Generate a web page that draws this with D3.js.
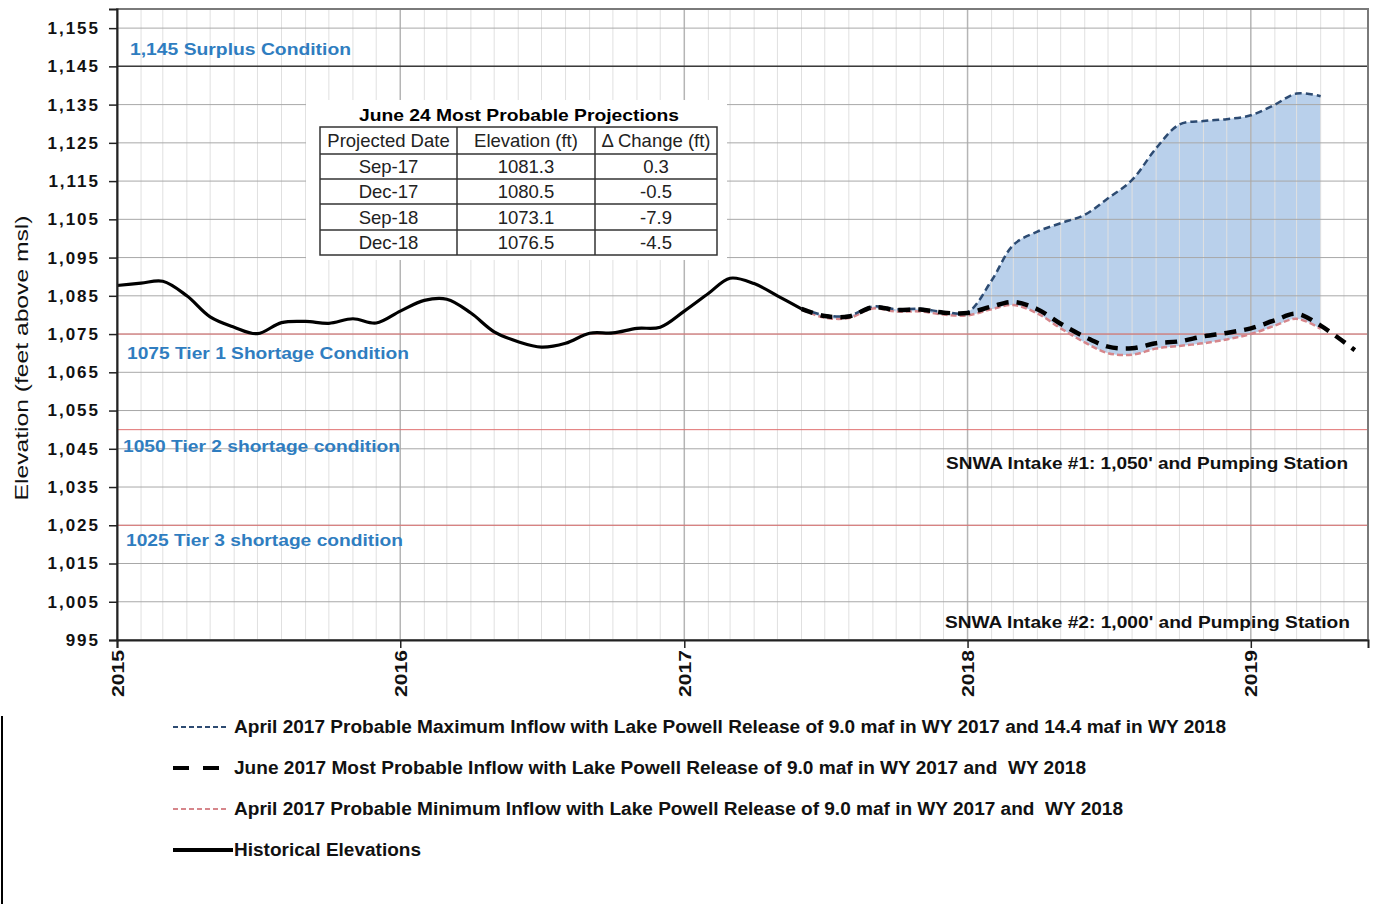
<!DOCTYPE html>
<html>
<head>
<meta charset="utf-8">
<script src="https://cdn.jsdelivr.net/npm/d3@7"></script>
<style>
  body { margin: 0; background: #fff; }
  svg { display: block; font-family: 'Liberation Sans', Arial, sans-serif; }
</style>
</head>
<body>
<div id="chart"></div>
<script>
// Historical elevations (month dates, ft)
const histDates = [
  '2015-01', '2015-02', '2015-03', '2015-04', '2015-05', '2015-06', '2015-07', '2015-08', '2015-09', '2015-10', '2015-11', '2015-12',
  '2016-01', '2016-02', '2016-03', '2016-04', '2016-05', '2016-06', '2016-07', '2016-08', '2016-09', '2016-10', '2016-11', '2016-12',
  '2017-01', '2017-02', '2017-03', '2017-04', '2017-05', '2017-06',
];
const histValues = [
  1087.7, 1088.3, 1088.8, 1085.0, 1079.5, 1076.8, 1075.1, 1078.0, 1078.3, 1077.8, 1079.0, 1077.9,
  1081.0, 1083.8, 1084.1, 1080.5, 1075.6, 1073.0, 1071.6, 1072.6, 1075.2, 1075.3, 1076.5, 1076.8,
  1081.0, 1085.6, 1089.6, 1088.2, 1085.0, 1081.6,
];

// Projection dates (max / min runs)
const projDates = [
  '2017-06', '2017-07', '2017-08', '2017-09', '2017-10', '2017-11', '2017-12',
  '2018-01', '2018-02', '2018-03', '2018-04', '2018-05', '2018-06', '2018-07', '2018-08', '2018-09', '2018-10', '2018-11', '2018-12',
  '2019-01', '2019-02', '2019-03', '2019-04',
];
const maxValues = [
  1081.7, 1079.9, 1079.8, 1082.2, 1081.5, 1081.6, 1080.8,
  1080.7, 1089.0, 1098.3, 1101.8, 1104.0, 1106.2, 1110.5, 1115.3, 1123.6, 1129.8, 1130.7, 1131.2,
  1132.2, 1135.0, 1137.9, 1137.2,
];
const minValues = [
  1081.4, 1079.3, 1079.2, 1081.7, 1080.9, 1080.9, 1080.1,
  1079.9, 1081.5, 1082.6, 1080.4, 1076.5, 1072.8, 1070.0, 1069.6, 1071.2, 1071.9, 1072.6, 1073.6,
  1075.0, 1077.2, 1079.0, 1076.4,
];
// Most probable run goes a little further
const mostDates = projDates.concat(['2019-05-15']);
const mostValues = [
  1081.6, 1079.7, 1079.6, 1082.0, 1081.3, 1081.4, 1080.6,
  1080.5, 1082.2, 1083.4, 1081.5, 1077.7, 1074.3, 1071.7, 1071.3, 1072.6, 1073.1, 1074.4, 1075.3,
  1076.5, 1078.6, 1080.3, 1077.2, 1070.8,
];

const yTicks = [995, 1005, 1015, 1025, 1035, 1045, 1055, 1065, 1075, 1085, 1095, 1105, 1115, 1125, 1135, 1145, 1155];
const xYears = ['2015', '2016', '2017', '2018', '2019'];

const refLevels = [1145, 1075, 1050, 1025];
const refLabels = ['1,145 Surplus Condition', '1075 Tier 1 Shortage Condition', '1050 Tier 2 shortage condition', '1025 Tier 3 shortage condition'];
const intakeLabels = ["SNWA Intake #1: 1,050' and Pumping Station", "SNWA Intake #2: 1,000' and Pumping Station"];

const tableTitle = 'June 24 Most Probable Projections';
const tableHeader = ['Projected Date', 'Elevation (ft)', '\u0394 Change (ft)'];
const tableDates = ['Sep-17', 'Dec-17', 'Sep-18', 'Dec-18'];
const tableElev = ['1081.3', '1080.5', '1073.1', '1076.5'];
const tableChange = ['0.3', '-0.5', '-7.9', '-4.5'];

const legendLabels = [
  'April 2017 Probable Maximum Inflow with Lake Powell Release of 9.0 maf in WY 2017 and 14.4 maf in WY 2018',
  'June 2017 Most Probable Inflow with Lake Powell Release of 9.0 maf in WY 2017 and  WY 2018',
  'April 2017 Probable Minimum Inflow with Lake Powell Release of 9.0 maf in WY 2017 and  WY 2018',
  'Historical Elevations',
];

const parse = (s) => d3.utcParse('%Y-%m-%d')(s) || d3.utcParse('%Y-%m')(s);

const W = 1376, H = 904;
const plot = { left: 117, right: 1368, top: 9, bottom: 640 };

const svg = d3.select('#chart').append('svg').attr('width', W).attr('height', H);

const x = d3.scaleUtc()
  .domain([parse('2015-01'), parse('2019-06')])
  .range([plot.left, plot.right]);
const y = d3.scaleLinear().domain([995, 1160]).range([plot.bottom, plot.top]);

const hist = histDates.map((d, i) => ({ date: parse(d), v: histValues[i] }));
const band = projDates.map((d, i) => ({ date: parse(d), hi: maxValues[i], lo: minValues[i] }));
const most = mostDates.map((d, i) => ({ date: parse(d), v: mostValues[i] }));

const curve = d3.curveCatmullRom.alpha(0.5);

// Shaded range between max and min
svg.append('path')
  .datum(band)
  .attr('fill', '#b9d0eb')
  .attr('d', d3.area().curve(curve).x((d) => x(d.date)).y0((d) => y(d.lo)).y1((d) => y(d.hi)));

// Monthly vertical grid
svg.append('g')
  .selectAll('line')
  .data(x.ticks(d3.utcMonth.every(1)))
  .join('line')
  .attr('x1', (d) => x(d)).attr('x2', (d) => x(d))
  .attr('y1', plot.top).attr('y2', plot.bottom)
  .attr('stroke', (d) => (d.getUTCMonth() === 0 ? '#b5b5b5' : '#e0e0e0'))
  .attr('stroke-width', (d) => (d.getUTCMonth() === 0 ? 1.5 : 1));

// Horizontal grid
svg.append('g')
  .selectAll('line')
  .data(yTicks.slice(1))
  .join('line')
  .attr('x1', plot.left).attr('x2', plot.right)
  .attr('y1', (d) => y(d)).attr('y2', (d) => y(d))
  .attr('stroke', '#a8a8a8')
  .attr('stroke-width', 1);

// Condition lines
svg.append('g')
  .selectAll('line')
  .data(refLevels)
  .join('line')
  .attr('x1', plot.left).attr('x2', plot.right)
  .attr('y1', (d) => y(d)).attr('y2', (d) => y(d))
  .attr('stroke', (d) => (d === 1145 ? '#3a3a3a' : '#e07070'))
  .attr('stroke-width', (d) => (d === 1145 ? 1.5 : 1));

// Condition labels
const refLabelPos = [[130, 55], [127, 359], [123, 452], [126, 546]];
const refLabelLen = [221, 282, 277, 277];
svg.append('g')
  .selectAll('text')
  .data(refLabels)
  .join('text')
  .attr('x', (d, i) => refLabelPos[i][0])
  .attr('y', (d, i) => refLabelPos[i][1])
  .attr('textLength', (d, i) => refLabelLen[i])
  .attr('lengthAdjust', 'spacingAndGlyphs')
  .attr('fill', '#2f7dc0')
  .style('font-size', '17px')
  .style('font-weight', 'bold')
  .text((d) => d);

svg.append('g')
  .selectAll('text')
  .data(intakeLabels)
  .join('text')
  .attr('x', (d, i) => (i === 0 ? 946 : 945))
  .attr('y', (d, i) => (i === 0 ? 469 : 628))
  .attr('textLength', (d, i) => (i === 0 ? 402 : 405))
  .attr('lengthAdjust', 'spacingAndGlyphs')
  .attr('fill', '#111')
  .style('font-size', '16.5px')
  .style('font-weight', 'bold')
  .text((d) => d);

// Series lines (smoothed like the source)
const line = d3.line().curve(curve).x((d) => x(d.date)).y((d) => y(d.v));

svg.append('path')
  .datum(band.map((d) => ({ date: d.date, v: d.lo })))
  .attr('fill', 'none')
  .attr('stroke', '#d6868b')
  .attr('stroke-width', 2.5)
  .attr('stroke-dasharray', '6,3')
  .attr('d', line);

svg.append('path')
  .datum(band.map((d) => ({ date: d.date, v: d.hi })))
  .attr('fill', 'none')
  .attr('stroke', '#2d4b72')
  .attr('stroke-width', 2.5)
  .attr('stroke-dasharray', '7,4')
  .attr('d', line);

svg.append('path')
  .datum(most)
  .attr('fill', 'none')
  .attr('stroke', '#000')
  .attr('stroke-width', 4.5)
  .attr('stroke-dasharray', '12,8')
  .attr('d', line);

svg.append('path')
  .datum(hist)
  .attr('fill', 'none')
  .attr('stroke', '#000')
  .attr('stroke-width', 3.2)
  .attr('stroke-linejoin', 'round')
  .attr('d', line);

// Projection table
const tbl = svg.append('g');
const colX = [320, 457, 595, 717];
const rowY = [127, 154, 179, 204, 230, 255];
tbl.append('rect')
  .attr('x', 306).attr('y', 100).attr('width', 421).attr('height', 160)
  .attr('fill', '#fff');
tbl.append('text')
  .attr('x', 519).attr('y', 121)
  .attr('text-anchor', 'middle')
  .attr('textLength', 320)
  .attr('lengthAdjust', 'spacingAndGlyphs')
  .style('font-size', '17px')
  .style('font-weight', 'bold')
  .text(tableTitle);
tbl.append('rect')
  .attr('x', colX[0]).attr('y', rowY[0])
  .attr('width', colX[3] - colX[0]).attr('height', rowY[5] - rowY[0])
  .attr('fill', 'none').attr('stroke', '#333').attr('stroke-width', 1.5);
tbl.selectAll('.vline')
  .data(colX.slice(1, 3))
  .join('line')
  .attr('x1', (d) => d).attr('x2', (d) => d)
  .attr('y1', rowY[0]).attr('y2', rowY[5])
  .attr('stroke', '#333').attr('stroke-width', 1.5);
tbl.selectAll('.hline')
  .data(rowY.slice(1, 5))
  .join('line')
  .attr('x1', colX[0]).attr('x2', colX[3])
  .attr('y1', (d) => d).attr('y2', (d) => d)
  .attr('stroke', '#333').attr('stroke-width', 1.5);
const cells = [tableHeader].concat(tableDates.map((d, i) => [d, tableElev[i], tableChange[i]]));
cells.forEach((row, r) => {
  row.forEach((c, k) => {
    tbl.append('text')
      .attr('x', (colX[k] + colX[k + 1]) / 2)
      .attr('y', (rowY[r] + rowY[r + 1]) / 2)
      .attr('dy', '0.36em')
      .attr('text-anchor', 'middle')
      .attr('fill', '#222')
      .style('font-size', '18.5px')
      .text(c);
  });
});

// Plot frame
svg.append('rect')
  .attr('x', plot.left).attr('y', plot.top)
  .attr('width', plot.right - plot.left).attr('height', plot.bottom - plot.top)
  .attr('fill', 'none').attr('stroke', '#7a7a7a').attr('stroke-width', 2);

// Y axis
const yAxis = svg.append('g')
  .attr('transform', `translate(${plot.left},0)`)
  .call(d3.axisLeft(y).tickValues(yTicks).tickSize(8).tickFormat(d3.format(',')));
yAxis.select('.domain').attr('stroke', '#222').attr('stroke-width', 2);
yAxis.selectAll('.tick line').attr('stroke', '#222').attr('stroke-width', 1.5);
yAxis.selectAll('.tick text')
  .attr('x', -17)
  .attr('fill', '#111')
  .style('font-family', "'Liberation Sans', Arial, sans-serif")
  .style('font-size', '17px')
  .style('font-weight', 'bold')
  .style('letter-spacing', '2px');

// X axis
const xAxis = svg.append('g')
  .attr('transform', `translate(0,${plot.bottom})`)
  .call(d3.axisBottom(x).tickValues(xYears.map((d) => d3.utcParse('%Y')(d))).tickSize(8).tickFormat(d3.utcFormat('%Y')));
xAxis.select('.domain').attr('stroke', '#222').attr('stroke-width', 2);
xAxis.selectAll('.tick line').attr('stroke', '#222').attr('stroke-width', 1.5);
xAxis.selectAll('.tick text')
  .attr('transform', 'rotate(-90)')
  .attr('text-anchor', 'end')
  .attr('x', -10)
  .attr('y', 0)
  .attr('dy', '0.36em')
  .attr('fill', '#111')
  .attr('textLength', 47)
  .attr('lengthAdjust', 'spacingAndGlyphs')
  .style('font-family', "'Liberation Sans', Arial, sans-serif")
  .style('font-size', '17px')
  .style('font-weight', 'bold');

// Y axis title
svg.append('text')
  .attr('transform', 'translate(28,358) rotate(-90)')
  .attr('text-anchor', 'middle')
  .attr('textLength', 285)
  .attr('lengthAdjust', 'spacingAndGlyphs')
  .attr('fill', '#111')
  .style('font-size', '19px')
  .text('Elevation (feet above msl)');

// Legend
const legendStyle = [
  { stroke: '#2d4b72', width: 2, dash: '5,3', x2: 228 },
  { stroke: '#000', width: 4, dash: '16,14', x2: 220 },
  { stroke: '#d6868b', width: 2, dash: '5,3', x2: 228 },
  { stroke: '#000', width: 4, dash: null, x2: 233 },
];
const legendLen = [992, 852, 889, 187];
const legend = svg.append('g')
  .selectAll('g')
  .data(legendLabels)
  .join('g')
  .attr('transform', (d, i) => `translate(0,${727 + i * 41})`);
legend.append('line')
  .attr('x1', 173).attr('x2', (d, i) => legendStyle[i].x2)
  .attr('y1', 0).attr('y2', 0)
  .attr('stroke', (d, i) => legendStyle[i].stroke)
  .attr('stroke-width', (d, i) => legendStyle[i].width)
  .attr('stroke-dasharray', (d, i) => legendStyle[i].dash);
legend.append('text')
  .attr('x', 234)
  .attr('y', 0)
  .attr('dy', '0.36em')
  .attr('textLength', (d, i) => legendLen[i])
  .attr('lengthAdjust', 'spacingAndGlyphs')
  .attr('fill', '#111')
  .style('white-space', 'pre')
  .style('font-size', '18px')
  .style('font-weight', 'bold')
  .text((d) => d);

// Stray frame edge at left of legend area
svg.append('line')
  .attr('x1', 2).attr('x2', 2)
  .attr('y1', 716).attr('y2', H)
  .attr('stroke', '#000').attr('stroke-width', 2);
</script>
</body>
</html>
